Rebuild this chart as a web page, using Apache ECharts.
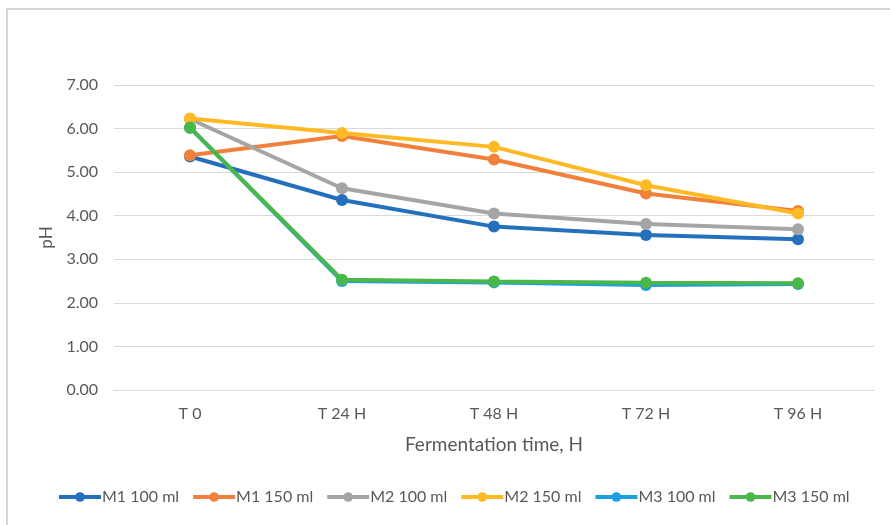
<!DOCTYPE html>
<html>
<head>
<meta charset="utf-8">
<script src="https://cdn.jsdelivr.net/npm/echarts@6/dist/echarts.min.js"></script>
<style>
  html, body { margin: 0; padding: 0; background: #fff; }
  #chart { width: 890px; height: 525px; }
</style>
</head>
<body>
<div id="chart"></div>
<script>
// Sampling points along the fermentation
const categories = ['T 0', 'T 24 H', 'T 48 H', 'T 72 H', 'T 96 H'];

// pH readings per medium and volume
const m1_100 = [5.36, 4.36, 3.75, 3.56, 3.46];
const m1_150 = [5.39, 5.83, 5.29, 4.51, 4.11];
const m2_100 = [6.22, 4.63, 4.05, 3.81, 3.69];
const m2_150 = [6.23, 5.90, 5.58, 4.70, 4.05];
const m3_100 = [6.02, 2.50, 2.47, 2.41, 2.43];
const m3_150 = [6.02, 2.53, 2.49, 2.46, 2.45];

const seriesNames = ['M1 100 ml', 'M1 150 ml', 'M2 100 ml', 'M2 150 ml', 'M3 100 ml', 'M3 150 ml'];
const seriesData = [m1_100, m1_150, m2_100, m2_150, m3_100, m3_150];
const colors = ['#2470BD', '#F0803A', '#A5A5A5', '#FDBA25', '#1A9FE2', '#4AB74B'];

const font = 'Lato, "Open Sans", sans-serif';
const textColor = '#595959';

const chart = echarts.init(document.getElementById('chart'), null, { renderer: 'canvas' });

chart.setOption({
  animation: false,
  backgroundColor: '#ffffff',
  color: colors,
  graphic: [{
    type: 'rect',
    shape: { x: 7, y: 9, width: 900, height: 540 },
    style: { fill: 'none', stroke: '#d4d4d4', lineWidth: 2 },
    silent: true,
    z: -10
  }],
  grid: { left: 114, right: 16, top: 85, bottom: 135 },
  legend: {
    bottom: 15,
    left: 52,
    itemWidth: 42,
    itemHeight: 12,
    itemGap: 12,
    lineStyle: { width: 4 },
    textStyle: { color: textColor, fontFamily: font, fontSize: 16, padding: [0, 0, 0, -4] },
    data: seriesNames
  },
  xAxis: {
    type: 'category',
    data: categories,
    boundaryGap: true,
    name: 'Fermentation time, H',
    nameLocation: 'middle',
    nameGap: 45,
    nameTextStyle: { color: textColor, fontFamily: font, fontSize: 19 },
    axisLine: { show: true, lineStyle: { color: '#d9d9d9', width: 1 } },
    axisTick: { show: false },
    axisLabel: { color: textColor, fontFamily: font, fontSize: 16, margin: 16 }
  },
  yAxis: {
    type: 'value',
    min: 0,
    max: 7,
    interval: 1,
    name: 'pH',
    nameLocation: 'middle',
    nameGap: 53,
    nameRotate: 90,
    nameTextStyle: { color: textColor, fontFamily: font, fontSize: 17 },
    axisLine: { show: false },
    axisTick: { show: false },
    axisLabel: {
      color: textColor, fontFamily: font, fontSize: 16, margin: 16,
      formatter: v => v.toFixed(2)
    },
    splitLine: { lineStyle: { color: '#d9d9d9', width: 1 } }
  },
  series: seriesNames.map((name, i) => ({
    name: name,
    type: 'line',
    data: seriesData[i],
    symbol: 'circle',
    symbolSize: 12,
    lineStyle: { width: 4, color: colors[i] },
    itemStyle: { color: colors[i] },
    z: 2 + i
  }))
});
</script>
</body>
</html>
